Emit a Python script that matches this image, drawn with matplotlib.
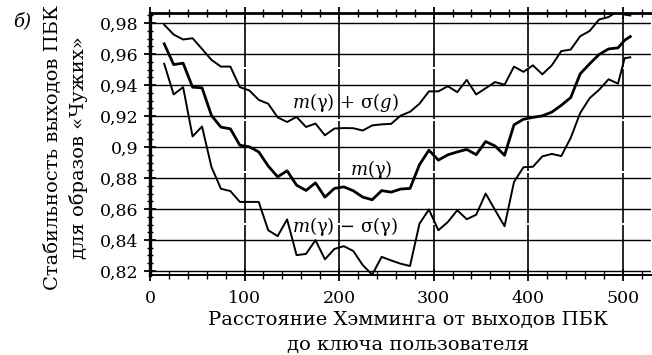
import numpy as np
import matplotlib
matplotlib.use("Agg")
import matplotlib.pyplot as plt
from matplotlib.ticker import MultipleLocator

plt.rcParams['font.family'] = ['DejaVu Serif']
plt.rcParams['mathtext.fontset'] = 'dejavuserif'

# расстояние Хэмминга (точки кривых)
hamming = [15, 25, 35, 45, 55, 65, 75, 85, 95, 105,
           115, 125, 135, 145, 155, 165, 175, 185, 195, 205,
           215, 225, 235, 245, 255, 265, 275, 285, 295, 305,
           315, 325, 335, 345, 355, 365, 375, 385, 395, 405,
           415, 425, 435, 445, 455, 465, 475, 485, 495, 502, 508]

# m(γ) + σ(g)
upper = [0.979, 0.9727, 0.9695, 0.9703, 0.9634, 0.9563, 0.952, 0.952, 0.9387, 0.9366,
         0.9305, 0.928, 0.9192, 0.9162, 0.9195, 0.913, 0.9152, 0.9076, 0.912, 0.9123,
         0.9122, 0.9107, 0.914, 0.9147, 0.915, 0.9203, 0.9228, 0.928, 0.936, 0.936,
         0.9393, 0.9355, 0.9434, 0.934, 0.938, 0.942, 0.9403, 0.952, 0.9486, 0.9528,
         0.947, 0.9528, 0.962, 0.963, 0.9716, 0.975, 0.9824, 0.984, 0.988, 0.9856, 0.985]

# m(γ)
mean = [0.9667, 0.9533, 0.9542, 0.9387, 0.9383, 0.9204, 0.9129, 0.9118, 0.9012, 0.9002,
        0.8969, 0.8878, 0.8808, 0.8847, 0.8754, 0.872, 0.8769, 0.8677, 0.8733, 0.8743,
        0.8718, 0.8677, 0.866, 0.8719, 0.8709, 0.8729, 0.8733, 0.8886, 0.898, 0.8916,
        0.895, 0.8969, 0.8985, 0.8951, 0.9036, 0.9007, 0.8947, 0.9144, 0.918, 0.9192,
        0.9202, 0.9226, 0.927, 0.932, 0.9473, 0.9538, 0.9598, 0.9634, 0.9641, 0.969, 0.9714]

# m(γ) − σ(γ)
lower = [0.9538, 0.934, 0.9387, 0.9069, 0.9133, 0.8871, 0.8731, 0.8716, 0.8646, 0.8646,
         0.8646, 0.8463, 0.8425, 0.8533, 0.8302, 0.831, 0.8399, 0.8275, 0.8342, 0.836,
         0.8329, 0.8238, 0.8176, 0.8291, 0.8268, 0.8247, 0.8232, 0.8505, 0.8597, 0.8463,
         0.8516, 0.8592, 0.8534, 0.8563, 0.87, 0.8593, 0.8489, 0.8775, 0.887, 0.8873,
         0.894, 0.8956, 0.8942, 0.906, 0.922, 0.9316, 0.937, 0.9438, 0.941, 0.9574, 0.958]

y_ticks = [0.82, 0.84, 0.86, 0.88, 0.90, 0.92, 0.94, 0.96, 0.98]
y_tick_labels = ['0,82', '0,84', '0,86', '0,88', '0,9', '0,92', '0,94', '0,96', '0,98']
x_ticks = [0, 100, 200, 300, 400, 500]

fig = plt.figure(figsize=(6.52, 3.55), dpi=100)
ax = fig.add_axes([0.2301, 0.2254, 0.7685, 0.7388])

ax.set_xlim(0, 530)
ax.set_ylim(0.8174, 0.9868)

# сетка
for yv in y_ticks:
    ax.axhline(yv, color='black', lw=1.0, zorder=1)
for xv in x_ticks[1:]:
    ax.axvline(xv, color='black', lw=1.2, ls=(0, (30, 1.2)), zorder=1)

ax.plot(hamming, upper, color='black', lw=1.4, zorder=3)
ax.plot(hamming, mean, color='black', lw=2.0, zorder=3)
ax.plot(hamming, lower, color='black', lw=1.4, zorder=3)

ax.text(207, 0.9285, r'$m$(γ) + σ($g$)', fontsize=13, ha='center', va='center')
ax.text(234, 0.8855, r'$m$(γ)', fontsize=13, ha='center', va='center')
ax.text(206, 0.8485, r'$m$(γ) − σ(γ)', fontsize=13, ha='center', va='center')

ax.set_yticks(y_ticks)
ax.set_yticklabels(y_tick_labels)
ax.yaxis.set_minor_locator(MultipleLocator(0.005))
ax.set_xticks(x_ticks)
ax.xaxis.set_minor_locator(MultipleLocator(20))

ax.tick_params(axis='y', which='major', direction='inout', length=9, width=1.3,
               labelsize=12.5, pad=4)
ax.tick_params(axis='y', which='minor', direction='inout', length=5, width=1.0)
ax.tick_params(axis='x', which='major', direction='inout', length=9, width=1.3,
               labelsize=12.5, pad=6, top=True)
ax.tick_params(axis='x', which='minor', direction='inout', length=6, width=1.0, top=True)

ax.spines['right'].set_visible(False)
ax.spines['left'].set_linewidth(2.4)
ax.spines['top'].set_linewidth(2.0)
ax.spines['bottom'].set_linewidth(1.4)

fig.text(408 / 652, 1 - 320 / 355, 'Расстояние Хэмминга от выходов ПБК',
         fontsize=14, ha='center', va='center')
fig.text(408 / 652, 1 - 345 / 355, 'до ключа пользователя',
         fontsize=14, ha='center', va='center')

fig.text(53 / 652, 1 - 148 / 355, 'Стабильность выходов ПБК',
         fontsize=14, ha='center', va='center', rotation=90)
fig.text(78 / 652, 1 - 148 / 355, 'для образов «Чужих»',
         fontsize=14, ha='center', va='center', rotation=90)

fig.text(22 / 652, 1 - 21 / 355, 'б)', fontsize=13, style='italic',
         ha='center', va='center')

fig.savefig('out.png', dpi=100)
